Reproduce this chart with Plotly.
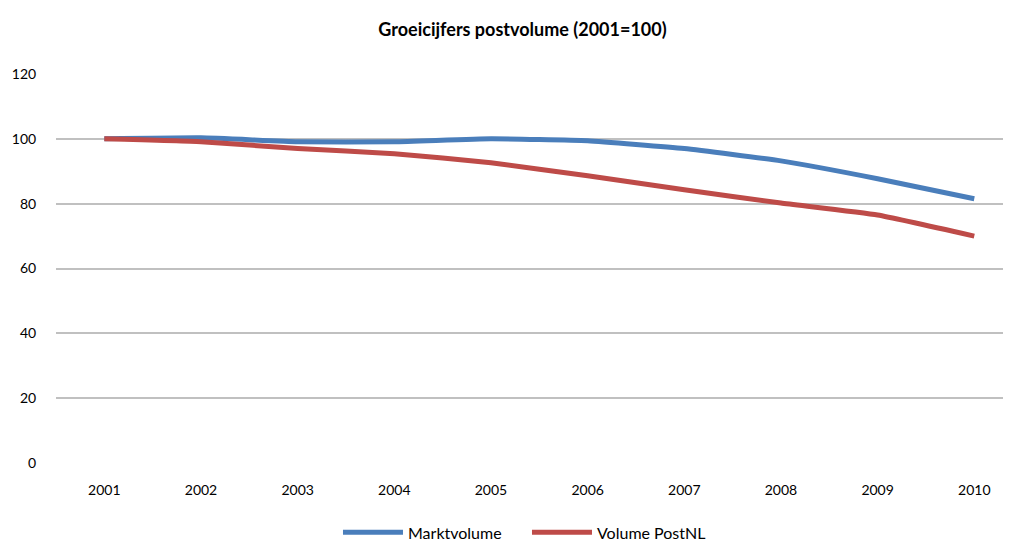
import plotly.graph_objects as go

years = ["2001", "2002", "2003", "2004", "2005", "2006", "2007", "2008", "2009", "2010"]
marktvolume = [100, 100.3, 99.1, 99.1, 100, 99.4, 97, 93.2, 87.7, 81.5]
postnl = [100, 99.1, 97, 95.4, 92.6, 88.6, 84.3, 80.2, 76.5, 70]

xs = list(range(len(years)))

fig = go.Figure()
fig.add_trace(go.Scatter(x=xs, y=marktvolume, mode="lines", name="Marktvolume",
                         line=dict(color="#4a7ebb", width=5, shape="spline", smoothing=0.4)))
fig.add_trace(go.Scatter(x=xs, y=postnl, mode="lines", name="Volume PostNL",
                         line=dict(color="#be4b48", width=5, shape="spline", smoothing=0.4)))

fig.update_layout(
    width=1003, height=533,
    paper_bgcolor="white", plot_bgcolor="white",
    margin=dict(l=48, r=0, t=66, b=78),
    title=dict(text="<b>Groeicijfers postvolume (2001=100)</b>", x=0.513, xanchor="center",
               y=0.96, yanchor="middle", font=dict(family="Lato", size=18, color="#000000")),
    font=dict(family="Lato", size=14, color="#000000"),
    xaxis=dict(tickmode="array", tickvals=xs, ticktext=years,
               range=[-0.5, 9.38], showgrid=False, zeroline=False, showline=False,
               ticks="outside", ticklen=14, tickcolor="rgba(0,0,0,0)"),
    yaxis=dict(range=[0, 120], tickvals=[0, 20, 40, 60, 80, 100, 120], showgrid=True,
               gridcolor="#c0c0c0", gridwidth=1.5, zeroline=False, showline=False,
               ticks="outside", ticklen=16, tickcolor="rgba(0,0,0,0)"),
    legend=dict(orientation="h", x=0.329, xanchor="left", xref="container",
                y=0.016, yanchor="middle", yref="container",
                font=dict(family="Lato", size=16), itemwidth=60,
                entrywidth=114, entrywidthmode="pixels"),
    showlegend=True,
)

fig.write_html("out.html")
